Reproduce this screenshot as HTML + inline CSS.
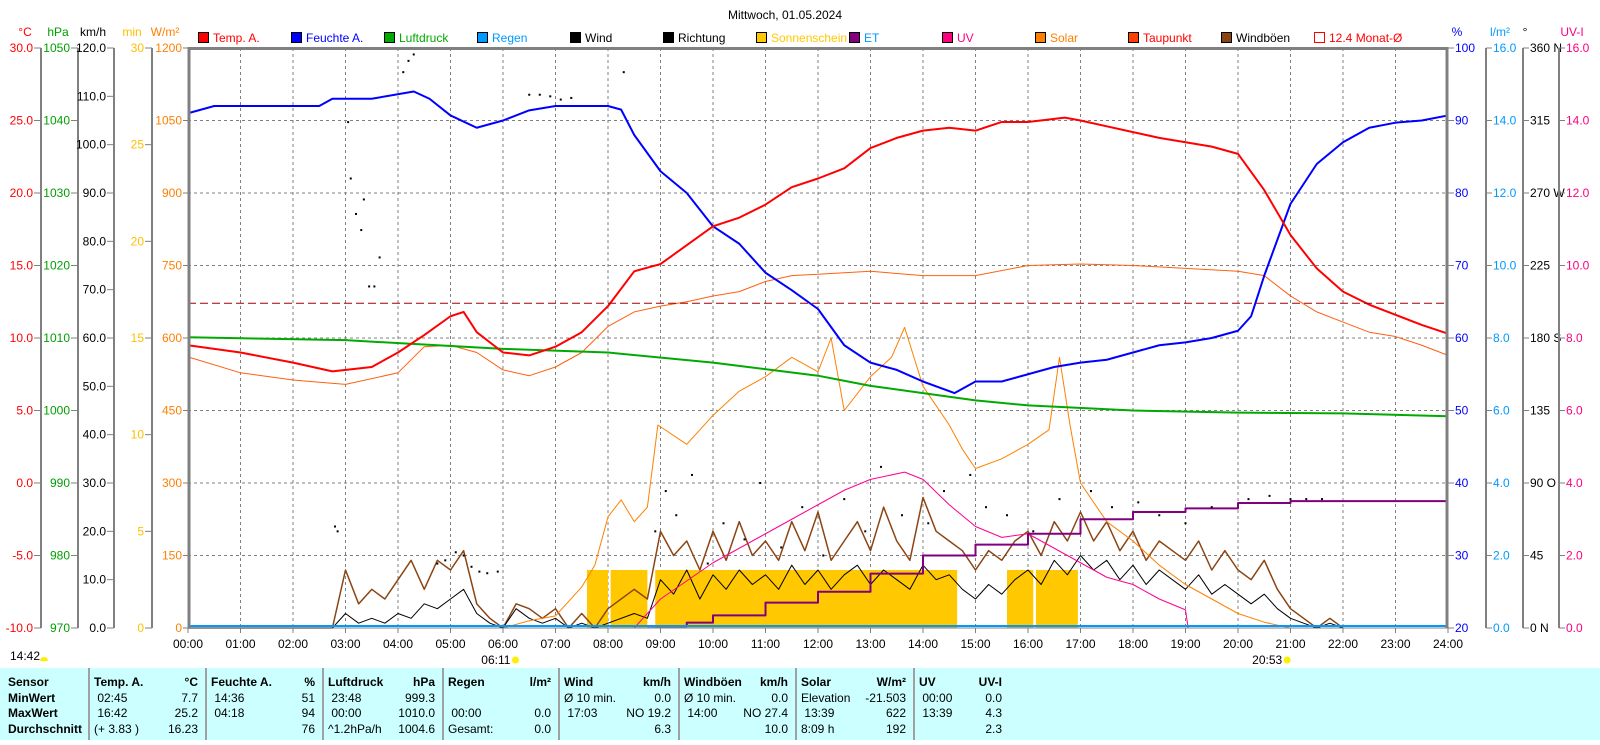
<!DOCTYPE html>
<html><head><meta charset="utf-8"><style>
body{margin:0;background:#fff;width:1600px;height:740px;overflow:hidden;font-family:"Liberation Sans",sans-serif}
svg text{font-family:"Liberation Sans",sans-serif;font-size:12px}
</style></head><body>
<svg id="c" width="1600" height="740" xmlns="http://www.w3.org/2000/svg">
<text x="785" y="19" text-anchor="middle" font-size="14">Mittwoch, 01.05.2024</text>
</svg>
<script>
// ---- data (time in hours) ----
const tempT=[0,1,2,2.75,3.5,4,4.5,5,5.25,5.5,6,6.5,7,7.5,8,8.5,9,9.5,10,10.5,11,11.5,12,12.5,13,13.5,14,14.5,15,15.5,16,16.7,17,17.5,18,18.5,19,19.5,20,20.5,21,21.5,22,22.5,23,23.5,24];
const tempV=[9.5,9.0,8.3,7.7,8.0,9.0,10.2,11.5,11.8,10.4,9.0,8.8,9.4,10.4,12.2,14.6,15.1,16.4,17.7,18.3,19.2,20.4,21,21.7,23.1,23.8,24.3,24.5,24.3,24.9,24.9,25.2,25.0,24.6,24.2,23.8,23.5,23.2,22.7,20.2,17.1,14.8,13.2,12.3,11.6,10.9,10.3];
const humT=[0,0.5,2,2.5,2.75,3.5,4.3,4.6,5,5.5,6,6.5,7,8,8.25,8.5,9,9.5,10,10.5,11,11.5,12,12.5,13,13.5,14,14.6,15,15.5,16,16.5,17,17.5,18,18.5,19,19.5,20,20.25,20.5,21,21.5,22,22.5,23,23.5,24];
const humV=[91,92,92,92,93,93,94,93,90.7,89,90,91.4,92,92,91.5,88,83,80,75.4,73,69,66.6,64,59,56.6,55.6,54,52.4,54,54,55,56,56.6,57,58,59,59.4,60,61,63,68.6,78.5,84,87,89,89.7,90,90.7];
const presT=[0,3,6,8,10,12,13,14,15,16,18,20,22,24];
const presV=[1010.1,1009.7,1008.5,1008,1006.6,1004.8,1003.4,1002.4,1001.4,1000.7,1000,999.7,999.6,999.2];
const dewT=[0,1,2,3,4,4.5,5,5.5,6,6.5,7,7.5,8,8.5,9,9.5,10,10.5,11,11.5,12,13,14,15,16,17,18,19,20,20.5,21,21.5,22,22.5,23,23.5,24];
const dewV=[8.7,7.6,7.1,6.8,7.6,9.4,9.5,9.0,7.8,7.4,8.0,9.0,10.8,11.8,12.2,12.5,12.9,13.2,13.9,14.3,14.4,14.6,14.3,14.3,15.0,15.1,15.0,14.8,14.6,14.3,12.9,11.8,11.1,10.4,10.1,9.5,8.8];
const solT=[0,6,6.5,7,7.5,7.75,8,8.25,8.5,8.75,8.95,9.5,10,10.5,11,11.5,12,12.25,12.5,13,13.4,13.65,14,14.5,14.75,15,15.5,16,16.4,16.6,16.8,17,17.5,18,18.5,19,19.5,20,20.5,21,24];
const solV=[0,0,15,25,85,130,230,265,220,250,420,380,440,490,520,560,530,600,450,520,560,622,500,420,370,330,350,380,410,560,420,300,220,180,130,90,60,30,12,0,0];
const uvT=[8.5,9,9.5,10,10.5,11,11.5,12,12.5,13,13.65,14,14.5,15,15.5,16,16.5,17,17.5,18,18.5,19,19.05];
const uvV=[0,0.8,1.3,1.8,2.2,2.6,3.0,3.4,3.8,4.1,4.3,4.1,3.4,2.8,2.5,2.6,2.2,1.8,1.4,1.2,0.8,0.5,0];
const etT=[8.75,9.5,10,11,12,13,14,15,16,17,18,19,20,21,24];
const etV=[0.05,0.15,0.35,0.7,1.0,1.5,2.0,2.3,2.6,3.0,3.2,3.3,3.45,3.5,3.5];
const sunStart=[7.6,8.05,8.9,15.6,16.15];
const sunEnd=[8.0,8.75,14.65,16.1,16.95];
const sunMin=[3,3,3,3,3];
const windT=[0,2.75,3,3.25,3.5,3.75,4,4.25,4.5,4.75,5,5.25,5.5,5.75,6,6.25,6.5,6.75,7,7.25,7.5,7.75,8,8.5,8.75,9,9.25,9.5,9.75,10,10.25,10.5,10.75,11,11.25,11.5,11.75,12,12.25,12.5,12.75,13,13.25,13.5,13.75,14,14.25,14.5,14.75,15,15.25,15.5,15.75,16,16.25,16.5,16.75,17,17.25,17.5,17.75,18,18.25,18.5,18.75,19,19.25,19.5,19.75,20,20.25,20.5,20.75,21,21.25,21.5,21.75,22];
const gustV=[0,0,12,5,8,6,10,14,8,14,12,16,5,2,0,5,4,2,4,0,3,0,4,8,6,20,15,18,12,20,14,22,15,18,14,22,16,24,14,18,22,16,25,18,14,27,20,18,16,12,16,14,18,20,15,22,18,24,18,22,16,20,14,18,16,14,18,12,16,12,10,14,8,4,2,0,2,0];
const windV=[0,0,3,1,2,1,3,2,5,4,6,8,3,1,0,4,2,1,2,0,1,0,1,3,2,10,7,12,6,11,8,12,9,11,8,13,9,12,8,11,13,9,12,10,8,13,10,11,8,6,9,7,10,12,9,14,11,15,12,14,10,13,9,12,10,8,11,7,9,7,5,7,4,2,1,0,1,0];
const dirT=[2.8,2.85,3.05,3.1,3.2,3.3,3.35,3.45,3.55,3.65,4.1,4.2,4.3,4.75,4.9,5.1,5.25,5.4,5.55,5.7,5.9,6.5,6.7,6.9,7.1,7.3,8.3,8.9,9.1,9.3,9.6,9.9,10.2,10.6,10.9,11.3,11.7,12.1,12.5,12.9,13.2,13.6,14.1,14.4,14.9,15.2,15.6,16.1,16.6,17.2,17.6,18.1,18.5,19.0,19.5,20.2,20.6,21.0,21.3,21.6];
const dirV=[63,60,314,279,257,247,266,212,212,230,345,352,356,40,42,47,45,38,35,34,35,331,331,330,328,329,345,60,85,70,95,40,65,55,90,50,75,45,80,60,100,70,65,85,95,75,70,60,80,85,75,78,70,65,75,80,82,80,80,80];
const monatAvg=12.4;
// ---- scales ----
const X=h=>188+h*52.5;
const yT=c=>48+(30-c)*14.5, yP=p=>48+(1050-p)*7.25, yK=k=>48+(120-k)*580/120;
const yM=m=>48+(30-m)*580/30, yW=w=>48+(1200-w)*580/1200, yH=h=>48+(100-h)*7.25;
const yL=l=>48+(16-l)*36.25, yD=d=>48+(360-d)*580/360, yU=yL;
const svg=document.getElementById('c');const NS='http://www.w3.org/2000/svg';
function mk(tag,at,parent){const e=document.createElementNS(NS,tag);for(const k in at)e.setAttribute(k,at[k]);(parent||svg).appendChild(e);return e;}
function txt(x,y,s,fill,anchor,parent){const t=mk('text',{x:x,y:y,fill:fill||'#000','text-anchor':anchor||'start'},parent);t.textContent=s;return t;}
// grid
const grid=mk('g',{stroke:'#808080','stroke-dasharray':'3,3','stroke-width':1});


for(let i=1;i<8;i++){const y=48+i*72.5;mk('line',{x1:188,x2:1448,y1:y,y2:y},grid);}
for(let h=1;h<24;h++){mk('line',{x1:X(h),x2:X(h),y1:48,y2:628},grid);}
// left axes
function vaxis(lx,vals,yf,fmt,color,name,unit,ux){
 const g=mk('g',{});
 
 
 mk('line',{x1:lx,x2:lx,y1:48,y2:628,stroke:'#808080','stroke-width':2},g);
 vals.forEach(v=>{const y=yf(v);mk('line',{x1:lx-7,x2:lx,y1:y,y2:y,stroke:'#808080'},g);txt(lx-8,y+4,fmt(v),color,'end',g);});
 txt(ux,36,unit,color,'middle',g);
}
vaxis(41,[30,25,20,15,10,5,0,-5,-10],yT,v=>v.toFixed(1),'#ff0000','temp-axis','°C',25);
vaxis(78,[1050,1040,1030,1020,1010,1000,990,980,970],yP,v=>v,'#00a000','pressure-axis','hPa',58);
vaxis(114,[120,110,100,90,80,70,60,50,40,30,20,10,0],yK,v=>v.toFixed(1),'#000','wind-axis','km/h',93);
vaxis(152,[30,25,20,15,10,5,0],yM,v=>v,'#ffc000','sunshine-axis','min',132);
// W/m2 axis labels
const gw=mk('g',{});
[1200,1050,900,750,600,450,300,150,0].forEach(v=>{const y=yW(v);mk('line',{x1:183,x2:188,y1:y,y2:y,stroke:'#808080'},gw);txt(182,y+4,v,'#ff8000','end',gw);});
txt(165,36,'W/m²','#ff8000','middle',gw);
// right axes
function raxis(lx,vals,yf,fmt,color,name,unit,ux,line){
 const g=mk('g',{});
 
 
 if(line)mk('line',{x1:lx,x2:lx,y1:48,y2:628,stroke:'#808080','stroke-width':2},g);
 vals.forEach(v=>{const y=yf(v);mk('line',{x1:lx,x2:lx+6,y1:y,y2:y,stroke:'#808080'},g);txt(lx+7,y+4,fmt(v),color,'start',g);});
 txt(ux,36,unit,color,'middle',g);
}
raxis(1448,[100,90,80,70,60,50,40,30,20],yH,v=>v,'#0000ff','humidity-axis','%',1457,false);
raxis(1486,[16,14,12,10,8,6,4,2,0],yL,v=>v.toFixed(1),'#0099ff','rain-axis','l/m²',1500,true);
const dirLab={360:'360 N',270:'270 W',180:'180 S',90:'90  O',0:'0     N'};
raxis(1523,[360,315,270,225,180,135,90,45,0],yD,v=>dirLab[v]||v,'#000','direction-axis','°',1525,true);
raxis(1559,[16,14,12,10,8,6,4,2,0],yU,v=>v.toFixed(1),'#ff0080','uv-axis','UV-I',1572,true);
// x labels
const gx=mk('g',{});
for(let h=0;h<=24;h++){mk('line',{x1:X(h),x2:X(h),y1:628,y2:633,stroke:'#808080'},gx);txt(X(h),648,(h<10?'0':'')+h+':00','#000','middle',gx);}
// sunshine bars
sunStart.forEach((s,i)=>{const r=mk('rect',{x:X(s),y:yM(sunMin[i]),width:X(sunEnd[i])-X(s),height:628-yM(sunMin[i]),fill:'#ffc800'});
 });
function line(T,V,yf,color,w,name,step){
 let d='';T.forEach((t,i)=>{const x=X(t),y=yf(V[i]);if(i==0)d='M'+x+' '+y;else if(step)d+=' H'+x+' V'+y;else d+=' L'+x+' '+y;});
 const p=mk('path',{d:d,fill:'none',stroke:color,'stroke-width':w,'stroke-linejoin':'round'});
 return p;
}
line(windT,gustV,yK,'#8b4513',1.5,'gust-line');
line(windT,windV,yK,'#000',1,'wind-line');
line(solT,solV,yW,'#ff8000',1,'solar-line');
line(uvT,uvV,yU,'#ff0090',1,'uv-line');
line(etT,etV,yL,'#800080',2,'et-line',true);
line(dewT,dewV,yT,'#ff6010',1,'dewpoint-line');
line(presT,presV,yP,'#00aa00',2,'pressure-line');
line(humT,humV,yH,'#0000ff',2,'humidity-line');
line(tempT,tempV,yT,'#ff0000',2,'temp-line');
const md=mk('line',{x1:188,x2:1448,y1:yT(monatAvg),y2:yT(monatAvg),stroke:'#a00000','stroke-dasharray':'8,4'});

dirT.forEach((t,i)=>{const r=mk('rect',{x:X(t)-1,y:yD(dirV[i])-1,width:2,height:2,fill:'#000'});
 });
// rain line + frame
const rl=mk('line',{x1:188,x2:1448,y1:626,y2:626,stroke:'#0099ff','stroke-width':2});

const fr=mk('path',{d:'M189 628 V48.5 H1447 V628',fill:'none',stroke:'#808080','stroke-width':3});

mk('line',{x1:188,x2:1448,y1:628,y2:628,stroke:'#808080','stroke-width':1});
// legend
const leg=[['Temp. A.','#ff0000','#ff0000'],['Feuchte A.','#0000ff','#0000ff'],['Luftdruck','#00aa00','#00aa00'],['Regen','#0099ff','#0099ff'],['Wind','#000','#000'],['Richtung','#000','#000'],['Sonnenschein','#ffc800','#ffc800'],['ET','#800080','#0099ff'],['UV','#ff0080','#ff0080'],['Solar','#ff8000','#ff8000'],['Taupunkt','#ff4000','#ff0000'],['Windböen','#8b4513','#000'],['12.4 Monat-Ø','none','#ff0000']];
leg.forEach((l,i)=>{const x=198+i*93;const g=mk('g',{});
 
 mk('rect',{x:x+0.5,y:32.5,width:10,height:10,fill:l[1],stroke:l[1]=='none'?'#ff0000':'#000'},g);
 txt(x+15,42,l[0],l[2],'start',g);});
// sunrise/sunset
function sunMark(h,label,x,nm){const g=mk('g',{});
 txt(x,664,label,'#000','end',g);mk('circle',{cx:x+5,cy:660,r:3.5,fill:'#ffee00'},g);}
sunMark(6.18,'06:11',X(6.18)-2,'sunrise-marker');
sunMark(20.88,'20:53',X(20.88)-2,'sunset-marker');
const sd=mk('g',{});
txt(10,660,'14:42','#000','start',sd);mk('path',{d:'M40 661 a4 4 0 0 1 8 0 z',fill:'#ffee00'},sd);
</script>
<div style="position:absolute;left:0;top:668px;width:1600px;height:72px;background:#ccffff;font-family:'Liberation Sans',sans-serif;font-size:12px;">
<style>.c{position:absolute;top:0;height:72px;border-left:2px solid #a0a0a0}.r{position:absolute;white-space:nowrap}</style>
<div class="c" style="left:88px"></div><div class="c" style="left:205px"></div><div class="c" style="left:322px"></div><div class="c" style="left:442px"></div><div class="c" style="left:558px"></div><div class="c" style="left:678px"></div><div class="c" style="left:795px"></div><div class="c" style="left:913px"></div>
<div class="r" style="left:8px;top:7px;font-weight:bold;line-height:15.5px">Sensor<br>MinWert<br>MaxWert<br>Durchschnitt</div>
<div class="r" style="left:94px;top:7px;line-height:15.5px"><b>Temp. A.</b><br>&nbsp;02:45<br>&nbsp;16:42<br>(+ 3.83 )</div>
<div class="r" style="right:1402px;top:7px;line-height:15.5px;text-align:right"><b>°C</b><br>7.7<br>25.2<br>16.23</div>
<div class="r" style="left:211px;top:7px;line-height:15.5px"><b>Feuchte A.</b><br>&nbsp;14:36<br>&nbsp;04:18<br>&nbsp;</div>
<div class="r" style="right:1285px;top:7px;line-height:15.5px;text-align:right"><b>%</b><br>51<br>94<br>76</div>
<div class="r" style="left:328px;top:7px;line-height:15.5px"><b>Luftdruck</b><br>&nbsp;23:48<br>&nbsp;00:00<br>^1.2hPa/h</div>
<div class="r" style="right:1165px;top:7px;line-height:15.5px;text-align:right"><b>hPa</b><br>999.3<br>1010.0<br>1004.6</div>
<div class="r" style="left:448px;top:7px;line-height:15.5px"><b>Regen</b><br>&nbsp;<br>&nbsp;00:00<br>Gesamt:</div>
<div class="r" style="right:1049px;top:7px;line-height:15.5px;text-align:right"><b>l/m²</b><br>&nbsp;<br>0.0<br>0.0</div>
<div class="r" style="left:564px;top:7px;line-height:15.5px"><b>Wind</b><br>Ø 10 min.<br>&nbsp;17:03<br>&nbsp;</div>
<div class="r" style="right:929px;top:7px;line-height:15.5px;text-align:right"><b>km/h</b><br>0.0<br>NO 19.2<br>6.3</div>
<div class="r" style="left:684px;top:7px;line-height:15.5px"><b>Windböen</b><br>Ø 10 min.<br>&nbsp;14:00<br>&nbsp;</div>
<div class="r" style="right:812px;top:7px;line-height:15.5px;text-align:right"><b>km/h</b><br>0.0<br>NO 27.4<br>10.0</div>
<div class="r" style="left:801px;top:7px;line-height:15.5px"><b>Solar</b><br>Elevation<br>&nbsp;13:39<br>8:09 h</div>
<div class="r" style="right:694px;top:7px;line-height:15.5px;text-align:right"><b>W/m²</b><br>-21.503<br>622<br>192</div>
<div class="r" style="left:919px;top:7px;line-height:15.5px"><b>UV</b><br>&nbsp;00:00<br>&nbsp;13:39<br>&nbsp;</div>
<div class="r" style="right:598px;top:7px;line-height:15.5px;text-align:right"><b>UV-I</b><br>0.0<br>4.3<br>2.3</div>
</div>
</body></html>
